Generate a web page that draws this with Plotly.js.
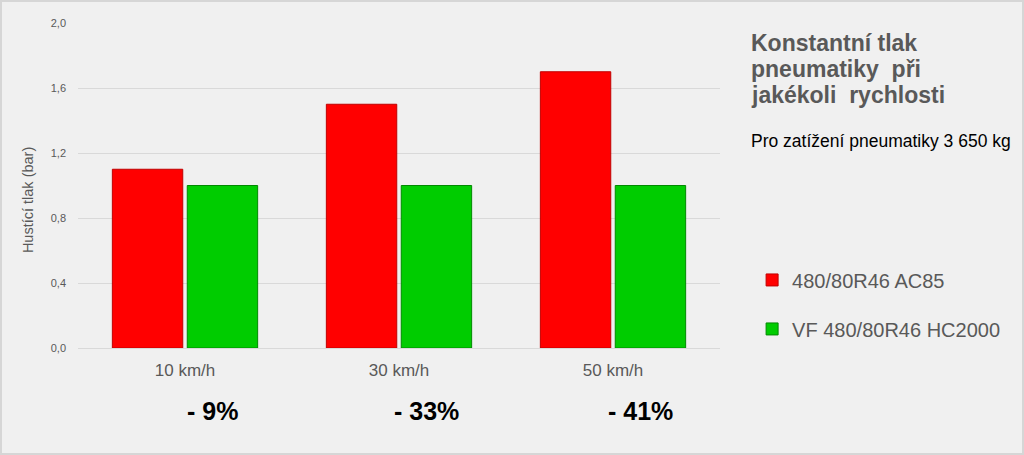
<!DOCTYPE html>
<html>
<head>
<meta charset="utf-8">
<script src="https://cdn.plot.ly/plotly-3.0.1.min.js"></script>
<style>
html,body{margin:0;padding:0;background:#f0f0f0;}
#wrap{position:relative;width:1024px;height:455px;}
#chart{width:1024px;height:455px;}
#frame{position:absolute;left:0;top:0;width:1024px;height:455px;box-sizing:border-box;border:2px solid #d6d6d6;pointer-events:none;}
</style>
</head>
<body>
<div id="wrap"><div id="chart"></div><div id="frame"></div></div>
<script>
const categories = ["10 km/h", "30 km/h", "50 km/h"];
const seriesNames = ["480/80R46 AC85", "VF 480/80R46 HC2000"];
const valuesAC85 = [1.1, 1.5, 1.7];
const valuesHC2000 = [1.0, 1.0, 1.0];
const diffLabels = ["- 9%", "- 33%", "- 41%"];
const yTicks = [0, 0.4, 0.8, 1.2, 1.6, 2.0];
const titleLines = ["Konstantní tlak", "pneumatiky  při", "jakékoli  rychlosti"];
const subtitle = "Pro zatížení pneumatiky 3 650 kg";
const yTitle = "Hustící tlak (bar)";

const SANS = '"Liberation Sans", Arial, sans-serif';

const traces = [
  {type:'bar', name:seriesNames[0], x:categories, y:valuesAC85, legendgroup:'a',
   marker:{color:'#ff0000', line:{color:'#c00000', width:1}}},
  {type:'bar', name:seriesNames[1], x:categories, y:valuesHC2000, legendgroup:'b',
   marker:{color:'#00cc00', line:{color:'#008a00', width:1}}}
];

const annotations = diffLabels.map((t,i)=>({
  x:categories[i], xref:'x', y:0, yref:'paper', yanchor:'middle', xanchor:'center', yshift:-63, xshift:27,
  text:'<b>'+t+'</b>', showarrow:false,
  font:{family:'"Liberation Sans Narrow", "Liberation Sans", Arial, sans-serif', size:25, color:'#000000'}
}));
const titleY = [0.9385, 0.8585, 0.7785];
titleLines.forEach((t,i)=>annotations.push({
  xref:'paper', yref:'paper', x:1.045, y:titleY[i], xanchor:'left', yanchor:'middle', align:'left',
  text:'<b>'+t+'</b>', showarrow:false,
  font:{family:SANS, size:23, color:'#595959'}
}));
annotations.push({
  xref:'paper', yref:'paper', x:1.045, y:0.637, xanchor:'left', yanchor:'middle', align:'left',
  text:subtitle, showarrow:false,
  font:{family:SANS, size:17.5, color:'#000000'}
});
annotations.push({
  xref:'paper', yref:'paper', x:-0.0779, y:0.455, xanchor:'center', yanchor:'middle', textangle:-90,
  text:yTitle, showarrow:false,
  font:{family:SANS, size:14.5, color:'#595959'}
});

const layout = {
  width:1024, height:455,
  margin:{l:78, r:304, t:23, b:107, autoexpand:false},
  paper_bgcolor:'#f0f0f0', plot_bgcolor:'#f0f0f0',
  separators:', ',
  barmode:'group', bargap:0.30, bargroupgap:0.06,
  font:{family:SANS, color:'#595959'},
  xaxis:{showgrid:false, showline:true, linecolor:'#d9d9d9', linewidth:1, automargin:false,
    tickfont:{size:17, color:'#595959'}, ticklabelstandoff:7, zeroline:false},
  yaxis:{range:[0,2], tickvals:yTicks, tickformat:'.1f', showgrid:true, gridcolor:'#d9d9d9', gridwidth:1, automargin:false,
    zeroline:false, showline:false, tickfont:{size:11, color:'#595959'}, ticklabelstandoff:11},
  showlegend:true,
  legend:{x:1.05, xanchor:'left', y:0.134, yanchor:'middle', bgcolor:'rgba(0,0,0,0)',
    font:{size:20, color:'#595959'}, tracegroupgap:20, itemwidth:30, traceorder:'grouped'},
  annotations:annotations
};
Plotly.newPlot('chart', traces, layout, {displayModeBar:false, staticPlot:true});
</script>
</body>
</html>
